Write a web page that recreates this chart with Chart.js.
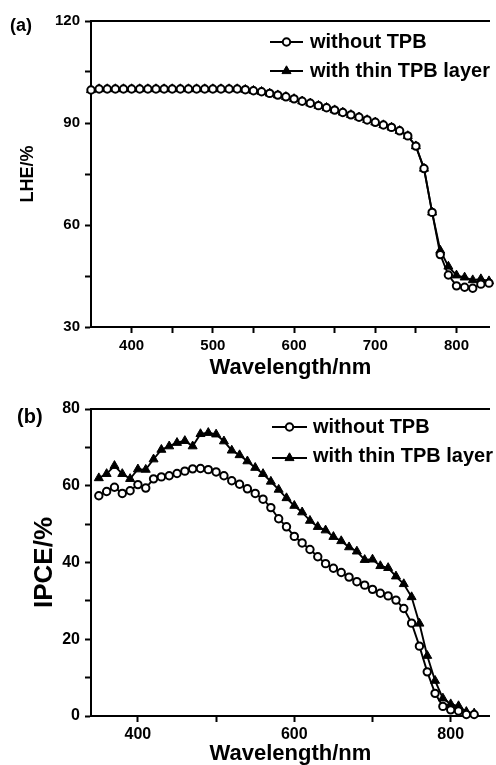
<!DOCTYPE html>
<html><head><meta charset="utf-8">
<script src="https://cdn.jsdelivr.net/npm/chart.js@4.4.1/dist/chart.umd.min.js"></script>
<style>
html,body{margin:0;padding:0;background:#fff;overflow:hidden;width:496px;height:765px;}
#wrap{position:relative;width:496px;height:765px;overflow:hidden;background:#fff;}
canvas{position:absolute;left:0;}
#c1{top:0}
#c2{top:385px}
.lab{position:absolute;font-family:"Liberation Sans",Arial,sans-serif;font-weight:bold;color:#000;line-height:1;}
</style></head><body>
<div id="wrap">
<canvas id="c1" width="496" height="385"></canvas>
<canvas id="c2" width="496" height="390"></canvas>
<div class="lab" style="left:10px;top:16px;font-size:18px">(a)</div>
<div class="lab" style="left:17px;top:406px;font-size:20px">(b)</div>
</div>
<script>
// ---------- data: panel (a) LHE ----------
const wavelengthsA = [350,360,370,380,390,400,410,420,430,440,450,460,470,480,490,500,510,520,530,540,550,560,570,580,590,600,610,620,630,640,650,660,670,680,690,700,710,720,730,740,750,760,770,780,790,800,810,820,830,840];
const lheWithout = [99.7,100,100,100,100,100,100,100,100,100,100,100,100,100,100,100,100,100,100,99.8,99.5,99.2,98.7,98.2,97.7,97.1,96.4,95.8,95.1,94.5,93.8,93.1,92.4,91.7,90.9,90.2,89.4,88.7,87.7,86.2,83.2,76.6,63.7,51.3,45.3,42.1,41.7,41.4,42.6,42.9];
const lheWith = [99.7,100,100,100,100,100,100,100,100,100,100,100,100,100,100,100,100,100,100,99.8,99.5,99.2,98.7,98.2,97.7,97.1,96.4,95.8,95.1,94.5,93.8,93.1,92.4,91.7,90.9,90.2,89.4,88.7,87.7,86.2,83.2,76.6,63.7,52.5,47.8,45.2,44.6,43.8,44.1,43.5];
const xTicksA = [400,450,500,550,600,650,700,750,800];
const xLabelsA = [400,500,600,700,800];
const yTicksA = [30,45,60,75,90,105,120];
const yLabelsA = [30,60,90,120];

// ---------- data: panel (b) IPCE ----------
const wavelengthsB = [350,360,370,380,390,400,410,420,430,440,450,460,470,480,490,500,510,520,530,540,550,560,570,580,590,600,610,620,630,640,650,660,670,680,690,700,710,720,730,740,750,760,770,780,790,800,810,820,830];
const ipceWithout = [57.4,58.5,59.6,58.0,58.7,60.3,59.4,61.8,62.3,62.6,63.2,63.8,64.4,64.5,64.2,63.6,62.6,61.3,60.4,59.2,58.0,56.5,54.3,51.4,49.3,46.8,45.1,43.4,41.5,39.7,38.5,37.4,36.2,35.0,34.1,33.0,32.0,31.3,30.2,28.0,24.2,18.2,11.5,5.9,2.5,1.6,1.3,0.4,0.4];
const ipceWith = [62.0,63.1,65.2,63.1,61.8,64.3,64.2,66.9,69.4,70.3,71.2,71.7,70.3,73.5,73.8,73.4,71.6,69.2,68.0,66.4,64.7,63.1,61.1,59.0,56.8,54.8,53.1,50.9,49.3,48.4,46.7,45.6,44.0,42.9,40.7,40.8,39.1,38.6,36.4,34.4,31.0,24.1,15.7,9.2,4.6,3.1,2.6,1.1,0.7];
const xTicksB = [400,500,600,700,800];
const xLabelsB = [400,600,800];
const yTicksB = [0,10,20,30,40,50,60,70,80];
const yLabelsB = [0,20,40,60,80];

const seriesNames = ['without TPB','with thin TPB layer'];

const FAM = '"Liberation Sans", Arial, Helvetica, sans-serif';
Chart.defaults.font.family = FAM;
Chart.defaults.color = '#000';

const CIRCLE_R = 3.7, CIRCLE_BW = 2, TRI_R = 5.2, TRI_BW = 1, LINE_W = 1.9;

function drawMarker(ctx, style, x, y) {
  ctx.beginPath();
  if (style === 'circle') {
    ctx.arc(x, y, CIRCLE_R, 0, Math.PI * 2);
    ctx.fillStyle = '#fff'; ctx.fill();
    ctx.lineWidth = CIRCLE_BW; ctx.strokeStyle = '#000'; ctx.stroke();
  } else {
    let rad = 0; const T = Math.PI * 2 / 3; const r = TRI_R;
    ctx.moveTo(x + Math.sin(rad) * r, y - Math.cos(rad) * r); rad += T;
    ctx.lineTo(x + Math.sin(rad) * r, y - Math.cos(rad) * r); rad += T;
    ctx.lineTo(x + Math.sin(rad) * r, y - Math.cos(rad) * r);
    ctx.closePath();
    ctx.fillStyle = '#000'; ctx.fill();
    ctx.lineWidth = TRI_BW; ctx.strokeStyle = '#000'; ctx.stroke();
  }
}

const customLegend = {
  id: 'customLegend',
  afterDraw(chart, args, opts) {
    const ctx = chart.ctx;
    ctx.save();
    opts.items.forEach(it => {
      ctx.strokeStyle = '#000'; ctx.lineWidth = 2;
      ctx.beginPath(); ctx.moveTo(it.x0, it.y); ctx.lineTo(it.x1, it.y); ctx.stroke();
      drawMarker(ctx, it.style, (it.x0 + it.x1) / 2, it.y);
      ctx.fillStyle = '#000';
      ctx.font = 'bold ' + opts.fontSize + 'px ' + FAM;
      ctx.textAlign = 'left'; ctx.textBaseline = 'alphabetic';
      ctx.fillText(it.text, it.tx, it.ty);
    });
    ctx.restore();
  }
};

function ds(label, xs, ys, style) {
  const circle = style === 'circle';
  return {
    label: label,
    data: xs.map((x, i) => ({x: x, y: ys[i]})),
    borderColor: '#000', borderWidth: LINE_W, tension: 0, fill: false,
    pointStyle: style,
    pointRadius: circle ? CIRCLE_R : TRI_R,
    pointBorderWidth: circle ? CIRCLE_BW : TRI_BW,
    pointBackgroundColor: circle ? '#fff' : '#000',
    pointBorderColor: '#000',
    clip: false
  };
}

function makeChart(id, cfg) {
  const axisFont = {family: FAM, size: cfg.tickSize, weight: 'bold'};
  return new Chart(document.getElementById(id), {
    type: 'line',
    data: {datasets: [
      ds(seriesNames[0], cfg.xs, cfg.y0, 'circle'),
      ds(seriesNames[1], cfg.xs, cfg.y1, 'triangle')
    ]},
    options: {
      responsive: false, animation: false, devicePixelRatio: 1,
      layout: {padding: {top: cfg.padTop, left: 0, right: 0, bottom: 0}},
      plugins: {
        legend: {display: false}, tooltip: {enabled: false},
        customLegend: {fontSize: 20, items: cfg.legend}
      },
      scales: {
        x: {
          type: 'linear', position: 'bottom', min: cfg.xmin, max: cfg.xmax,
          afterBuildTicks: s => { s.ticks = cfg.xTicks.map(v => ({value: v})); },
          ticks: {callback: v => cfg.xLabels.includes(v) ? String(v) : '', font: axisFont, color: '#000', padding: cfg.xTickPad, maxRotation: 0, autoSkip: false},
          grid: {drawOnChartArea: false, drawTicks: true, tickLength: 6, tickWidth: 2, tickColor: '#000'},
          border: {display: true, width: 2, color: '#000'},
          title: {display: true, text: 'Wavelength/nm', color: '#000', font: {family: FAM, size: 22, weight: 'bold'}, padding: {top: 0, bottom: cfg.xTitlePad}},
          afterFit: s => { s.height = cfg.xAxisH; }
        },
        xTop: {
          type: 'linear', position: 'top', min: cfg.xmin, max: cfg.xmax,
          ticks: {display: false}, grid: {drawOnChartArea: false, drawTicks: false},
          border: {display: true, width: 2, color: '#000'},
          afterFit: s => { s.height = 0; }
        },
        y: {
          type: 'linear', position: 'left', min: cfg.ymin, max: cfg.ymax,
          afterBuildTicks: s => { s.ticks = cfg.yTicks.map(v => ({value: v})); },
          ticks: {callback: v => cfg.yLabels.includes(v) ? String(v) : '', font: axisFont, color: '#000', padding: 5, autoSkip: false},
          grid: {drawOnChartArea: false, drawTicks: true, tickLength: 6, tickWidth: 2, tickColor: '#000'},
          border: {display: true, width: 2, color: '#000'},
          title: {display: true, text: cfg.yTitle, color: '#000', font: {family: FAM, size: cfg.yTitleSize, weight: 'bold'}, padding: {top: cfg.yTitlePad, bottom: 0}},
          afterFit: s => { s.width = 91; }
        }
      }
    },
    plugins: [customLegend]
  });
}

makeChart('c1', {
  xs: wavelengthsA, y0: lheWithout, y1: lheWith,
  xmin: 350, xmax: 841, ymin: 30, ymax: 120,
  xTicks: xTicksA, xLabels: xLabelsA, yTicks: yTicksA, yLabels: yLabelsA,
  tickSize: 15, padTop: 21, xAxisH: 58, xTickPad: 4, xTitlePad: 4,
  yTitle: 'LHE/%', yTitleSize: 18, yTitlePad: 17,
  legend: [
    {style: 'circle', x0: 270, x1: 303, y: 42, text: seriesNames[0], tx: 310, ty: 48},
    {style: 'triangle', x0: 270, x1: 303, y: 71, text: seriesNames[1], tx: 310, ty: 77}
  ]
});

makeChart('c2', {
  xs: wavelengthsB, y0: ipceWithout, y1: ipceWith,
  xmin: 340, xmax: 850, ymin: 0, ymax: 80,
  xTicks: xTicksB, xLabels: xLabelsB, yTicks: yTicksB, yLabels: yLabelsB,
  tickSize: 16, padTop: 24, xAxisH: 59, xTickPad: 3, xTitlePad: 8,
  yTitle: 'IPCE/%', yTitleSize: 26, yTitlePad: 29,
  legend: [
    {style: 'circle', x0: 272, x1: 307, y: 42, text: seriesNames[0], tx: 313, ty: 48},
    {style: 'triangle', x0: 272, x1: 307, y: 73, text: seriesNames[1], tx: 313, ty: 77}
  ]
});
</script>
</body></html>
